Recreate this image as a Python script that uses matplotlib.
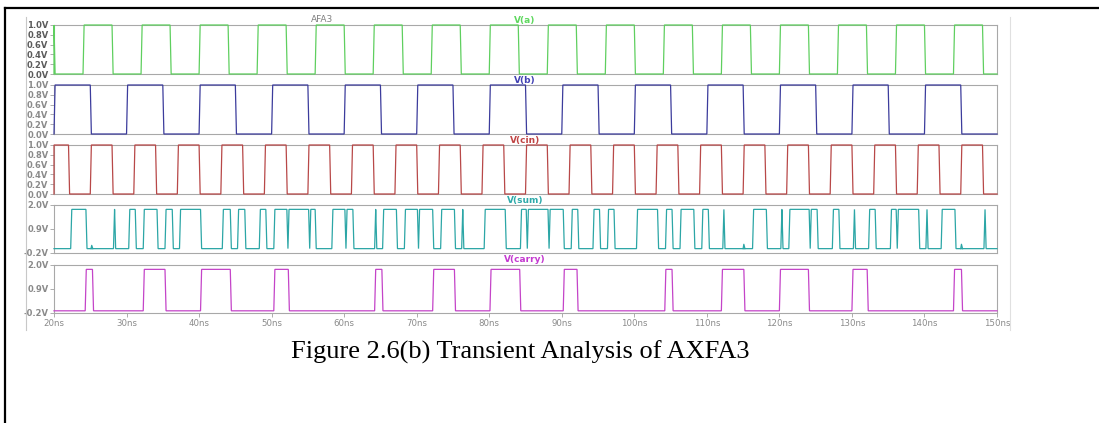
import numpy as np
import matplotlib
matplotlib.use("Agg")
import matplotlib.pyplot as plt
from matplotlib.lines import Line2D

# ---------------- data ----------------
x_ticks = [20, 30, 40, 50, 60, 70, 80, 90, 100, 110, 120, 130, 140, 150]
x_tick_labels = ["20ns", "30ns", "40ns", "50ns", "60ns", "70ns", "80ns",
                 "90ns", "100ns", "110ns", "120ns", "130ns", "140ns", "150ns"]

y_ticks_1v = [0.0, 0.2, 0.4, 0.6, 0.8, 1.0]
y_labels_1v = ["0.0V", "0.2V", "0.4V", "0.6V", "0.8V", "1.0V"]
y_ticks_2v = [-0.2, 0.9, 2.0]
y_labels_2v = ["-0.2V", "0.9V", "2.0V"]

# high intervals (ns) of each waveform
a_high = [(16, 20), (24, 28), (32, 36), (40, 44), (48, 52), (56, 60), (64, 68),
          (72, 76), (80, 84), (88, 92), (96, 100), (104, 108), (112, 116),
          (120, 124), (128, 132), (136, 140), (144, 148)]
b_high = [(20, 25), (30, 35), (40, 45), (50, 55), (60, 65), (70, 75), (80, 85),
          (90, 95), (100, 105), (110, 115), (120, 125), (130, 135), (140, 145)]
cin_high = [(19, 22), (25, 28), (31, 34), (37, 40), (43, 46), (49, 52), (55, 58),
            (61, 64), (67, 70), (73, 76), (79, 82), (85, 88), (91, 94), (97, 100),
            (103, 106), (109, 112), (115, 118), (121, 124), (127, 130), (133, 136),
            (139, 142), (145, 148)]
sum_high = [(22.3, 24.4), (28.2, 28.35), (30.3, 31.2), (32.3, 34.2), (35.3, 36.3),
            (37.3, 40.2), (43.2, 44.3), (45.3, 46.3), (48.3, 49.2), (50.3, 52.1),
            (52.25, 55.1), (55.25, 56.0), (58.3, 60.1), (60.25, 61.2), (64.2, 64.35),
            (65.3, 67.2), (68.3, 70.1), (70.25, 72.2), (73.3, 75.2), (76.2, 76.35),
            (79.3, 82.2), (84.3, 85.1), (85.25, 88.1), (88.25, 90.2), (91.3, 92.2),
            (94.3, 95.2), (96.3, 97.2), (100.3, 103.2), (104.3, 105.2), (106.3, 108.2),
            (109.3, 110.2), (112.2, 112.35), (116.3, 118.2), (120.2, 120.35),
            (121.3, 124.1), (124.25, 125.2), (127.3, 128.2), (130.2, 130.35),
            (132.3, 133.2), (135.3, 136.1), (136.25, 139.2), (140.2, 140.35),
            (142.3, 144.2), (148.2, 148.35)]
sum_bumps = [(25.2, 0.15), (115.1, 0.2), (145.1, 0.2)]   # (time ns, height V)
carry_high = [(24.3, 25.3), (32.3, 35.3), (40.2, 44.3), (50.3, 52.3), (64.2, 65.2),
              (72.2, 75.2), (80.1, 84.2), (90.2, 92.1), (104.2, 105.2),
              (112.0, 115.1), (120.0, 124.0), (130.0, 132.1), (144.0, 145.1)]

levels = [(0.0, 1.0), (0.0, 1.0), (0.0, 1.0), (0.0, 1.8), (-0.1, 1.8)]

names = ["V(a)", "V(b)", "V(cin)", "V(sum)", "V(carry)"]
line_colors = ["#5fcf5f", "#3c3c9c", "#b84848", "#2ca6a6", "#c444c8"]
title_colors = ["#5fd85f", "#4242b4", "#c04444", "#2eaaaa", "#c43ad0"]

# ---------------- figure ----------------
W, H = 1099, 423
fig = plt.figure(figsize=(W / 100, H / 100), dpi=100)
fig.patch.set_facecolor("white")


def px_axes(x0, y0, x1, y1):
    return fig.add_axes([x0 / W, 1 - y1 / H, (x1 - x0) / W, (y1 - y0) / H])


def square(intervals, lo, hi, tr=0.15):
    t, v = [20.0], [lo]
    for s, e in intervals:
        t += [s, s + tr, e, e + tr]
        v += [lo, hi, hi, lo]
    t.append(150.0)
    v.append(lo)
    t = np.clip(np.array(t), 20, 150)
    return t, np.array(v)


# outer document frame
fig.add_artist(Line2D([5 / W, 1.0], [1 - 8 / H, 1 - 8 / H], color="black", lw=1.6,
                      transform=fig.transFigure))
fig.add_artist(Line2D([5 / W, 5 / W], [1 - 8 / H, 0.0], color="black", lw=1.6,
                      transform=fig.transFigure))
# LTspice window edges
fig.add_artist(Line2D([26 / W, 26 / W], [1 - 17 / H, 1 - 330 / H], color="#c8c8c8", lw=0.8,
                      transform=fig.transFigure))
fig.add_artist(Line2D([1010 / W, 1010 / W], [1 - 17 / H, 1 - 330 / H], color="#e0e0e0", lw=0.8,
                      transform=fig.transFigure))

panel_y = [(25, 74), (85, 134), (145, 194), (205, 253), (265, 313)]
title_y = [20, 80, 140, 200, 260]
series = [a_high, b_high, cin_high, sum_high, carry_high]

for i in range(5):
    y0, y1 = panel_y[i]
    ax = px_axes(54, y0, 997, y1)
    lo, hi = levels[i]
    if i < 3:
        ax.set_ylim(0.0, 1.0)
        ax.set_yticks(y_ticks_1v)
        ax.set_yticklabels(y_labels_1v)
    else:
        ax.set_ylim(-0.2, 2.0)
        ax.set_yticks(y_ticks_2v)
        ax.set_yticklabels(y_labels_2v)
    t, v = square(series[i], lo, hi)
    ax.plot(t, v, color=line_colors[i], lw=0.9, clip_on=False, zorder=3,
            solid_joinstyle="miter")
    if i == 3:
        for tb, hb in sum_bumps:
            ax.plot([tb - 0.1, tb, tb + 0.15], [lo, lo + hb, lo], color=line_colors[i],
                    lw=0.9, zorder=3)
    ax.set_xlim(20, 150)
    for s in ax.spines.values():
        s.set_color("#a8a8a8")
        s.set_linewidth(0.8)
        s.set_zorder(2)
    lab_col = "#5a5a5a" if i == 0 else "#8a8a8a"
    ax.tick_params(axis="y", direction="out", length=3, width=0.6, colors="#a0a0a0",
                   labelcolor=lab_col, labelsize=6, pad=1)
    for lbl in ax.get_yticklabels():
        lbl.set_fontweight("bold")
    if i == 4:
        ax.set_xticks(x_ticks)
        ax.set_xticklabels(x_tick_labels)
        ax.tick_params(axis="x", direction="out", length=3, width=0.6, colors="#a0a0a0",
                       labelcolor="#8a8a8a", labelsize=6.2, pad=1.5)
    else:
        ax.set_xticks([])
    fig.text(525 / W, 1 - title_y[i] / H, names[i], color=title_colors[i], fontsize=6.5,
             fontweight="bold", ha="center", va="center")

fig.text(322 / W, 1 - 20 / H, "AFA3", color="#808080", fontsize=6.5, ha="center", va="center")

fig.text(520 / W, 1 - 352 / H, "Figure 2.6(b) Transient Analysis of AXFA3",
         family="Liberation Serif", fontsize=19, color="black", ha="center", va="center")

fig.savefig("out.png", dpi=100)
